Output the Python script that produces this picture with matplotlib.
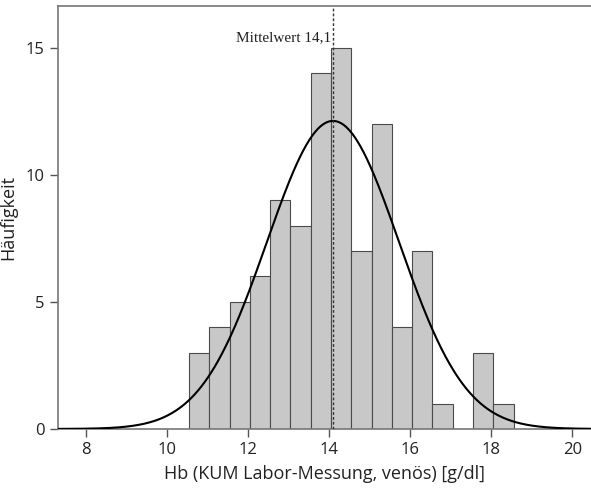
import numpy as np
import matplotlib
matplotlib.use("Agg")
import matplotlib.pyplot as plt

# Histogram of venous Hb measurements (bin width 0.5 g/dl)
bin_edges = [10.55, 11.05, 11.55, 12.05, 12.55, 13.05, 13.55, 14.05, 14.55,
             15.05, 15.55, 16.05, 16.55, 17.05, 17.55, 18.05, 18.55]
counts = [3, 4, 5, 6, 9, 8, 14, 15, 7, 12, 4, 7, 1, 0, 3, 1]
mean_value = 14.1
std_value = 1.63
x_ticks = [8, 10, 12, 14, 16, 18, 20]
y_ticks = [0, 5, 10, 15]

fig = plt.figure(figsize=(5.91, 4.88), dpi=100)
ax = fig.add_axes([0.098, 0.121, 0.902, 0.867])

edges = np.array(bin_edges)
widths = np.diff(edges)
ax.bar(edges[:-1], counts, width=widths, align="edge",
       color="#c8c8c8", edgecolor="#4a4a4a", linewidth=0.8, zorder=2)

# Fitted normal curve, scaled to counts per bin
n_total = sum(counts)
bw = widths.mean()
xs = np.linspace(7.32, 20.6, 500)
ys = n_total * bw / (std_value * np.sqrt(2 * np.pi)) * np.exp(-0.5 * ((xs - mean_value) / std_value) ** 2)
ax.plot(xs, ys, color="black", linewidth=1.5, zorder=3)

# Mean marker
ax.axvline(mean_value, color="#333333", linestyle=(0, (2, 1.5)), linewidth=1.0, zorder=4)
ax.text(mean_value - 0.05, 15.4, "Mittelwert 14,1", ha="right", va="center",
        fontsize=11, family="Liberation Serif", color="#222222")

ax.set_xlim(7.32, 20.46)
ax.set_ylim(0, 16.64)
ax.set_xticks(x_ticks)
ax.set_yticks(y_ticks)

for side in ("left", "bottom", "top"):
    ax.spines[side].set_color("#777777")
    ax.spines[side].set_linewidth(1.2)
ax.spines["right"].set_visible(False)
ax.tick_params(axis="both", direction="out", length=6, width=1, color="#555555",
               labelsize=12, labelcolor="#222222")
for lab in ax.get_xticklabels() + ax.get_yticklabels():
    lab.set_family("Open Sans")

ax.set_xlabel("Hb (KUM Labor-Messung, venös) [g/dl]", fontsize=13,
              family="Open Sans", color="#222222", labelpad=5)
ax.set_ylabel("Häufigkeit", fontsize=13, family="Open Sans", color="#222222")
ax.yaxis.set_label_coords(-0.077, 0.5)

fig.savefig("out.png", dpi=100)
